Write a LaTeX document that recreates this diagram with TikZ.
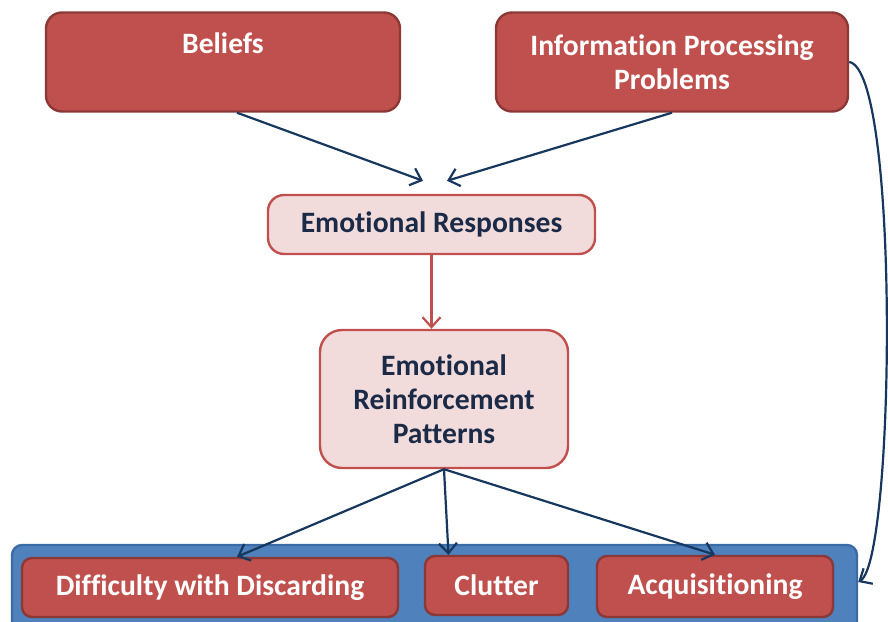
\documentclass[tikz,border=0pt]{standalone}
\usepackage{fontspec}
\setmainfont{Carlito}[Ligatures=NoCommon]
\usetikzlibrary{arrows.meta}

\definecolor{boxred}{HTML}{C0504D}
\definecolor{boxline}{HTML}{8C3836}
\definecolor{boxpink}{HTML}{F2DCDB}
\definecolor{textnavy}{HTML}{1B2A47}
\definecolor{arrownavy}{HTML}{17375E}
\definecolor{groupblue}{HTML}{4F81BD}
\definecolor{groupline}{HTML}{3A6BA5}

\begin{document}
\begin{tikzpicture}[
			x=0.5pt, y=-0.5pt,
			>={Straight Barb[length=5pt,width=9pt]},
			every node/.style={font=\bfseries\fontsize{14.8}{17}\selectfont, align=center, inner sep=0pt},
			redbox/.style={draw=boxline, fill=boxred, rounded corners=8pt, line width=1.2pt, text=white},
			pinkbox/.style={draw=boxred, fill=boxpink, rounded corners=8pt, line width=1.2pt, text=textnavy},
			link/.style={->, draw=arrownavy, line width=1.1pt}
			]

				\useasboundingbox (0,0) rectangle (888,621);

				\node[redbox, minimum width=177pt, minimum height=49.5pt, text height=11pt, text depth=20pt] (beliefs) at (223,62) {Beliefs};
				\node[redbox, minimum width=176pt, minimum height=49.5pt] (info) at (672,62) {Information Processing\\Problems};

				\node[pinkbox, minimum width=163.5pt, minimum height=29.5pt] (emoresp) at (431.5,224.5) {Emotional Responses};
				\node[pinkbox, rounded corners=11pt, minimum width=124pt, minimum height=69pt] (emoreinf) at (444,399) {Emotional\\Reinforcement\\Patterns};

				\node[draw=groupline, fill=groupblue, rounded corners=5pt, line width=1.2pt, minimum width=422.5pt, minimum height=45pt] (hoarding) at (434.5,590) {};
				\node[redbox, rounded corners=5pt, minimum width=188pt, minimum height=29.5pt] (discard) at (210,587.5) {Difficulty with Discarding};
				\node[redbox, rounded corners=5pt, minimum width=71.5pt, minimum height=29.5pt] (clutter) at (496.5,585.5) {Clutter};
				\node[redbox, rounded corners=5pt, minimum width=118pt, minimum height=30.5pt] (acquire) at (715,586.5) {Acquisitioning};

				\draw[link] ([xshift=7pt]beliefs.south) -- ([xshift=-4.25pt,yshift=6.5pt]emoresp.north);
				\draw[link] (info.south) -- ([xshift=7.75pt,yshift=6.5pt]emoresp.north);
				\draw[->, draw=boxred, line width=1.1pt] (emoresp.south) -- (emoresp.south |- emoreinf.north);

				\draw[link] (emoreinf.south) -- ([xshift=13.5pt]discard.north);
				\draw[link] (emoreinf.south) -- ([xshift=-24pt]clutter.north);
				\draw[link] (emoreinf.south) -- (acquire.north);

				\draw[link] (info.east) .. controls (900,70) and (895,560) .. ([yshift=4pt]hoarding.east);

			\end{tikzpicture}
\end{document}
